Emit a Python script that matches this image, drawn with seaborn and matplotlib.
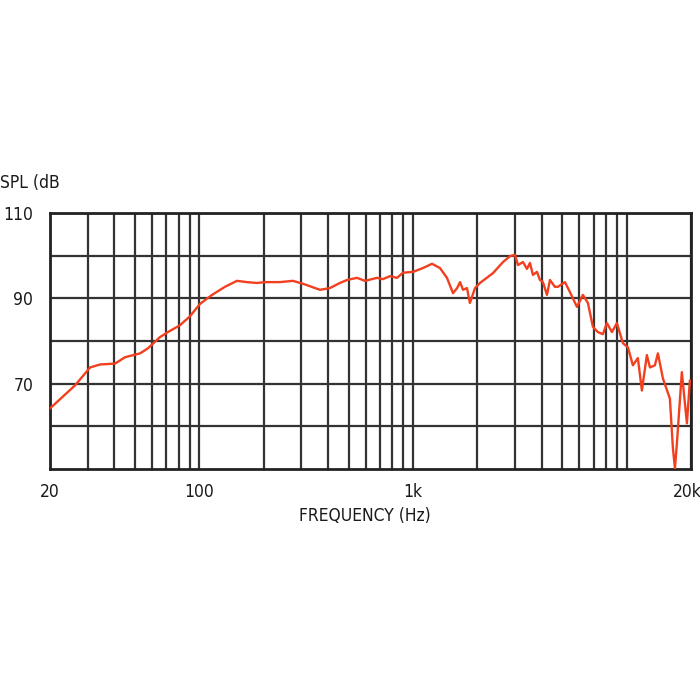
import numpy as np
import pandas as pd
import matplotlib
matplotlib.use("Agg")
import matplotlib.pyplot as plt
import matplotlib.transforms as mtransforms
import seaborn as sns

# frequency response (Hz, dB SPL)
freq = [20, 26.2, 30.8, 34.3, 40.3, 44.9, 52.8, 57.5, 65.4, 71.3, 81.2, 90.4,
        100.7, 114.6, 131.8, 150, 167, 186, 203, 238, 274, 306, 367, 408, 455,
        491, 547, 596, 678, 723, 780, 841, 898, 1000, 1113, 1227, 1337, 1442,
        1539, 1608, 1660, 1714, 1789, 1846, 1950, 2057, 2366, 2637, 2845, 3002,
        3100, 3270, 3415, 3526, 3641, 3802, 3928, 4056, 4236, 4375, 4614, 4765,
        5141, 5422, 5851, 6239, 6586, 6950, 7330, 7740, 8077, 8530, 9000, 9600,
        10140, 10690, 11280, 11780, 12430, 12850, 13550, 14000, 14780, 15930,
        16450, 16820, 17180, 18120, 19140, 19770]
spl = [64.2, 69.6, 73.8, 74.5, 74.7, 76.2, 77.1, 78.3, 80.9, 82.1, 83.7, 85.8,
       88.7, 90.8, 92.7, 94.1, 93.8, 93.6, 93.8, 93.8, 94.1, 93.4, 92.0, 92.4,
       93.6, 94.3, 94.8, 94.1, 94.8, 94.5, 95.2, 94.8, 96.0, 96.2, 97.1, 98.1,
       97.1, 94.8, 91.2, 92.4, 93.8, 92.0, 92.4, 88.9, 92.4, 93.6, 95.9, 98.5,
       99.9, 100.2, 97.8, 98.5, 96.9, 98.3, 95.5, 96.2, 94.3, 93.8, 90.8, 94.3,
       92.7, 92.7, 93.8, 91.5, 88.0, 90.8, 88.9, 83.3, 82.1, 81.6, 84.2, 82.1,
       84.2, 79.5, 78.5, 74.3, 76.0, 68.4, 76.7, 73.8, 74.3, 77.1, 71.2, 66.5,
       55.0, 50.1, 56.0, 72.7, 60.7, 70.8]

x_ticks = [20, 100, 1000, 20000]
x_labels = ["20", "100", "1k", "20k"]
x_minor = [30, 40, 50, 60, 70, 80, 90, 200, 300, 400, 500, 600, 700, 800, 900,
           2000, 3000, 4000, 5000, 6000, 7000, 8000, 9000, 10000]
y_ticks = [70, 90, 110]
y_minor = [60, 80, 100]

df = pd.DataFrame({"freq": freq, "spl": spl})

sns.set_style("white")
plt.rcParams["font.family"] = ["DejaVu Sans"]
plt.rcParams["font.stretch"] = "condensed"

fig = plt.figure(figsize=(7, 7), dpi=100)
ax = fig.add_axes([50 / 700, 231 / 700, 641 / 700, 256 / 700])

sns.lineplot(data=df, x="freq", y="spl", ax=ax, color="#f2401f", linewidth=1.7,
             zorder=3, sort=False)

ax.set_xscale("log")
ax.set_xlim(20, 20000)
ax.set_ylim(50, 110)
ax.set_xticks(x_ticks)
ax.set_xticklabels(x_labels)
ax.set_xticks(x_minor, minor=True)
ax.set_xticklabels([], minor=True)
ax.set_yticks(y_ticks)
ax.set_yticks(y_minor, minor=True)
ax.grid(True, which="both", color="#333333", linewidth=1.6)
ax.tick_params(which="both", length=0, labelsize=12.5, labelcolor="#1a1a1a")
ax.tick_params(axis="x", pad=10)
ax.tick_params(axis="y", pad=12)
for s in ax.spines.values():
    s.set_color("#222222")
    s.set_linewidth(2)

# keep the "20k" label inside the canvas
last = ax.get_xticklabels()[-1]
last.set_transform(last.get_transform() +
                   mtransforms.ScaledTranslation(-4 / 100, 0, fig.dpi_scale_trans))

ax.set_xlabel("")
ax.set_ylabel("")
fig.text(0 / 700, 1 - 183 / 700, "SPL (dB", fontsize=12.5, va="center",
         ha="left", color="#1a1a1a")
fig.text(365 / 700, 1 - 516 / 700, "FREQUENCY (Hz)", fontsize=12.5,
         va="center", ha="center", color="#1a1a1a")

fig.savefig("out.png", dpi=100)
